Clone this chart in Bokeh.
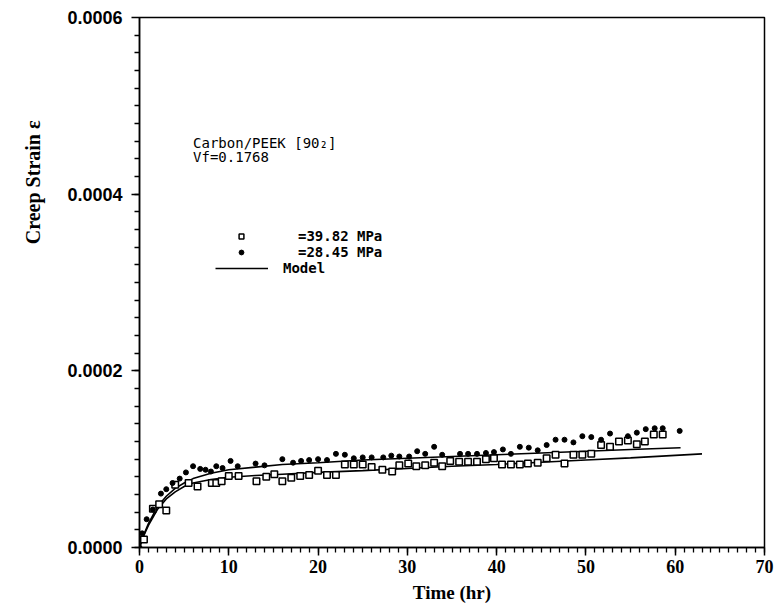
from bokeh.plotting import figure
from bokeh.models import (Range1d, FixedTicker, PrintfTickFormatter,
                          Legend, LegendItem, Label, Title)
from bokeh.embed import file_html
from bokeh.resources import INLINE

# ---- data (strain in units of 1e-5) ----
time_39 = [0.5, 1.5, 2.2, 3.0, 4.0, 5.5, 6.5, 8.1, 8.6, 9.2, 10.0, 11.1, 13.1, 14.2,
           15.1, 16.0, 17.0, 18.0, 19.0, 20.0, 21.0, 22.0, 23.0, 24.0, 25.0, 26.0,
           27.2, 28.3, 29.1, 30.1, 31.0, 32.0, 33.0, 33.9, 34.8, 35.8, 36.8, 37.8,
           38.8, 39.7, 40.6, 41.6, 42.6, 43.5, 44.6, 45.6, 46.6, 47.6, 48.6, 49.6,
           50.6, 51.7, 52.7, 53.7, 54.7, 55.7, 56.6, 57.6, 58.6]
strain_39 = [0.9, 4.4, 4.9, 4.2, 7.1, 7.3, 6.9, 7.3, 7.3, 7.5, 8.1, 8.1, 7.5, 8.0,
             8.3, 7.5, 7.9, 8.1, 8.2, 8.7, 8.2, 8.2, 9.4, 9.4, 9.4, 9.1,
             8.8, 8.6, 9.3, 9.5, 9.2, 9.3, 9.6, 9.2, 9.8, 9.7, 9.7, 9.7,
             10.0, 10.1, 9.4, 9.4, 9.4, 9.5, 9.6, 10.1, 10.5, 9.5, 10.5, 10.5,
             10.6, 11.6, 11.4, 12.0, 12.1, 11.7, 12.0, 12.8, 12.8]

time_28 = [0.0, 0.3, 0.8, 1.5, 2.4, 3.0, 3.7, 4.5, 5.2, 6.0, 6.8, 7.4, 8.0, 8.6, 9.3,
           10.2, 11.0, 13.0, 14.0, 16.0, 17.2, 18.1, 19.0, 20.0, 21.0, 22.0, 23.0,
           24.0, 25.0, 26.0, 27.3, 28.2, 29.1, 30.2, 31.1, 32.0, 33.0, 33.9, 35.9,
           36.8, 37.8, 38.8, 39.7, 40.7, 41.6, 42.6, 43.6, 44.6, 45.6, 46.6, 47.6,
           48.6, 49.6, 50.6, 51.7, 52.7, 54.7, 55.7, 56.7, 57.7, 58.6, 60.5]
strain_28 = [0.0, 1.6, 3.2, 4.3, 6.1, 6.6, 7.3, 7.8, 8.5, 9.2, 8.9, 8.8, 8.6, 9.2, 9.0,
             9.8, 9.2, 9.5, 9.3, 10.0, 9.6, 9.8, 9.9, 10.0, 9.9, 10.6, 10.5,
             10.1, 10.2, 10.2, 10.2, 10.4, 10.3, 10.3, 10.9, 10.6, 11.4, 10.5, 10.6,
             10.6, 10.6, 10.7, 10.8, 11.1, 10.6, 11.4, 11.3, 11.0, 11.6, 12.2, 12.2,
             11.9, 12.6, 12.5, 12.2, 12.9, 12.6, 13.0, 13.4, 13.5, 13.5, 13.2]

model_time_a = [0, 0.5, 1, 2, 3, 4, 5, 6, 8, 10, 13, 16, 20, 25, 30, 35, 40, 45, 50, 55, 60.6]
model_strain_a = [0, 1.5, 2.7, 4.6, 5.8, 6.7, 7.3, 7.8, 8.4, 8.8, 9.1, 9.4, 9.6, 9.9,
                  10.1, 10.3, 10.5, 10.7, 10.9, 11.1, 11.3]
model_time_b = [0, 0.5, 1, 2, 3, 4, 5, 6, 8, 10, 13, 16, 20, 25, 30, 35, 40, 45, 50, 55, 63]
model_strain_b = [0, 1.4, 2.5, 4.3, 5.5, 6.3, 6.9, 7.3, 7.7, 7.95, 8.15, 8.3, 8.5, 8.7,
                  8.95, 9.2, 9.4, 9.65, 9.9, 10.15, 10.6]

labels = ["=39.82 MPa", "=28.45 MPa", "Model"]
x_major_ticks = [0, 10, 20, 30, 40, 50, 60, 70]
y_major_ticks = [0.0, 0.0002, 0.0004, 0.0006]

S = 1e-5
x_minor_ticks = [t for t in range(0, 71)]
y_minor_ticks = [k * 0.00002 for k in range(0, 31)]

p = figure(width=774, height=607, x_range=Range1d(0, 70), y_range=Range1d(0, 0.0006),
           output_backend="svg", toolbar_location=None,
           min_border_left=139, min_border_right=10, min_border_top=17, min_border_bottom=60)
p.xgrid.visible = False
p.ygrid.visible = False
p.outline_line_color = "black"
p.outline_line_width = 1.5
p.background_fill_color = "white"
p.border_fill_color = "white"

for ax in (p.xaxis[0], p.yaxis[0]):
    ax.axis_line_width = 1.5
    ax.axis_line_color = "black"
    ax.major_tick_in = 0
    ax.minor_tick_in = 0
    ax.major_tick_line_width = 1.5
    ax.minor_tick_line_width = 1.3
    ax.major_tick_line_color = "black"
    ax.minor_tick_line_color = "black"
    ax.major_label_text_color = "black"

p.xaxis.ticker = FixedTicker(ticks=x_major_ticks, minor_ticks=x_minor_ticks)
p.yaxis.ticker = FixedTicker(ticks=y_major_ticks, minor_ticks=y_minor_ticks)
p.yaxis.formatter = PrintfTickFormatter(format="%.4f")
p.xaxis.major_tick_out = 8
p.xaxis.minor_tick_out = 5
p.yaxis.major_tick_out = 8
p.yaxis.minor_tick_out = 5

p.xaxis.major_label_text_font = "Liberation Serif"
p.xaxis.major_label_text_font_style = "bold"
p.xaxis.major_label_text_font_size = "18px"
p.xaxis.major_label_standoff = 4
p.xaxis.axis_label = "Time (hr)"
p.xaxis.axis_label_text_font = "Liberation Serif"
p.xaxis.axis_label_text_font_style = "bold"
p.xaxis.axis_label_text_font_size = "19px"
p.xaxis.axis_label_text_color = "black"
p.xaxis.axis_label_standoff = 6

p.yaxis.major_label_text_font = "Liberation Sans"
p.yaxis.major_label_text_font_style = "bold"
p.yaxis.major_label_text_font_size = "18px"
p.yaxis.major_label_standoff = 9

# y-axis title, placed high on the left as in the original
p.add_layout(Title(text="Creep Strain  \u03b5", align="right", offset=98, standoff=39,
                   vertical_align="middle",
                   text_font="Liberation Serif", text_font_style="bold",
                   text_font_size="20px", text_color="black"), "left")

r_a = p.line(model_time_a, [v * S for v in model_strain_a], line_color="black", line_width=1.6)
r_b = p.line(model_time_b, [v * S for v in model_strain_b], line_color="black", line_width=1.6)
r_sq = p.scatter(time_39, [v * S for v in strain_39], marker="square", size=6.5,
                 fill_color="white", line_color="black", line_width=1.5)
r_dot = p.scatter(time_28, [v * S for v in strain_28], marker="circle", size=5,
                  fill_color="black", line_color="black")

def make_legend(label, renderer, x, y, gw, standoff):
    return Legend(items=[LegendItem(label=label, renderers=[renderer])],
                  location=(x, y), orientation="vertical",
                  glyph_width=gw, glyph_height=12, label_standoff=standoff,
                  label_text_font="DejaVu Sans Mono", label_text_font_style="bold",
                  label_text_font_size="14px", label_text_color="black",
                  label_height=12, spacing=0, padding=0, margin=0,
                  border_line_color=None, background_fill_alpha=0)

p.add_layout(make_legend(labels[0], r_sq, 73, 303, 58, 28), "center")
p.add_layout(make_legend(labels[1], r_dot, 73, 287, 58, 28), "center")
p.add_layout(make_legend(labels[2], r_a, 76, 271, 53, 15), "center")

p.add_layout(Label(x=6.0, y=0.000458, text="Carbon/PEEK [90\u2082]",
                   text_font="DejaVu Sans Mono", text_font_size="14px",
                   text_baseline="middle", text_color="black"))
p.add_layout(Label(x=6.0, y=0.000442, text="Vf=0.1768",
                   text_font="DejaVu Sans Mono", text_font_size="14px",
                   text_baseline="middle", text_color="black"))

open("out.html", "w").write(file_html(p, INLINE))
